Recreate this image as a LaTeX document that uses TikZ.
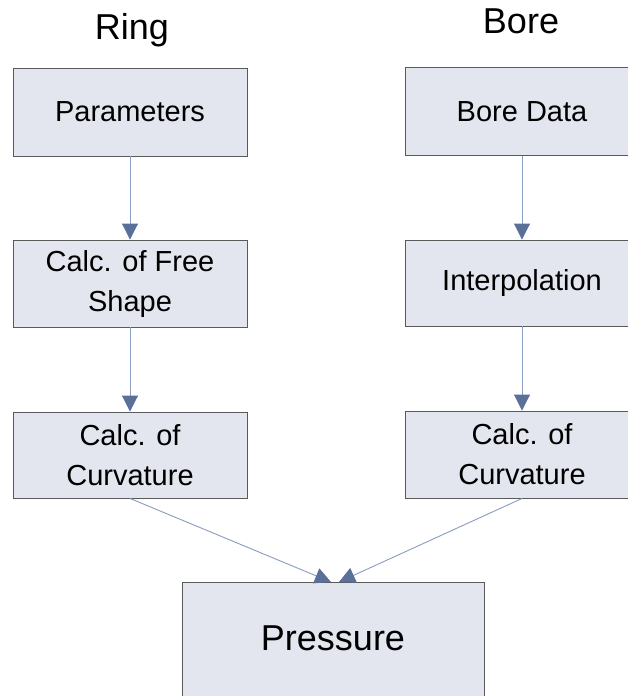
\documentclass[tikz,border=0pt]{standalone}
\usepackage{fontspec}
\setmainfont{Liberation Sans}
\usetikzlibrary{arrows.meta}
\definecolor{boxfill}{HTML}{E3E6EE}
\definecolor{boxline}{HTML}{5A5A5A}
\definecolor{linkline}{HTML}{8A9CBF}
\definecolor{tipcol}{HTML}{5A7099}
\begin{document}
\begin{tikzpicture}[x=1pt,y=1pt,
  stepbox/.style={draw=boxline, fill=boxfill, line width=0.9pt, inner sep=0pt,
    minimum width=234pt, align=center, font=\fontsize{29}{40}\selectfont},
  title/.style={inner sep=0pt, font=\fontsize{36}{40}\selectfont},
  link/.style={draw=linkline, line width=0.9pt,
    -{Triangle[width=16pt,length=16pt,fill=tipcol,color=tipcol]}}]
\begin{scope}
\clip (0,0) rectangle (628,-696);
\fill[white] (0,0) rectangle (628,-696);
% titles
\node[title, anchor=base] (ring) at (132,-39) {Ring};
\node[title, anchor=base] (bore) at (521,-33) {Bore};
% left column
\node[stepbox, minimum height=88pt] (par) at (130,-112) {Parameters};
\node[stepbox, minimum height=87pt] (free) at (130,-283.5) {Calc. of Free\\Shape};
\node[stepbox, minimum height=86pt] (curvl) at (130,-455) {Calc. of\\Curvature};
% right column
\node[stepbox, minimum height=88pt] (bdata) at (522,-111.5) {Bore Data};
\node[stepbox, minimum height=86pt] (interp) at (522,-283) {Interpolation};
\node[stepbox, minimum height=87pt] (curvr) at (522,-454.5) {Calc. of\\Curvature};
% result
\node[stepbox, minimum width=302pt, minimum height=120pt, font=\fontsize{36}{40}\selectfont] (press) at (333,-642) {};
\node[inner sep=0pt, font=\fontsize{36}{40}\selectfont] (ptext) at (333,-638) {Pressure};
\coordinate (pinl) at (331,-582);
\coordinate (pinr) at (339,-582);
% connectors
\draw[link] (par) -- (free);
\draw[link] (free) -- (curvl);
\draw[link] (bdata) -- (interp);
\draw[link] (interp) -- (curvr);
\draw[link] (curvl.south) -- (pinl);
\draw[link] (curvr.south) -- (pinr);
\end{scope}
\pgfresetboundingbox
\useasboundingbox (0,0) rectangle (628,-696);
\end{tikzpicture}
\end{document}
